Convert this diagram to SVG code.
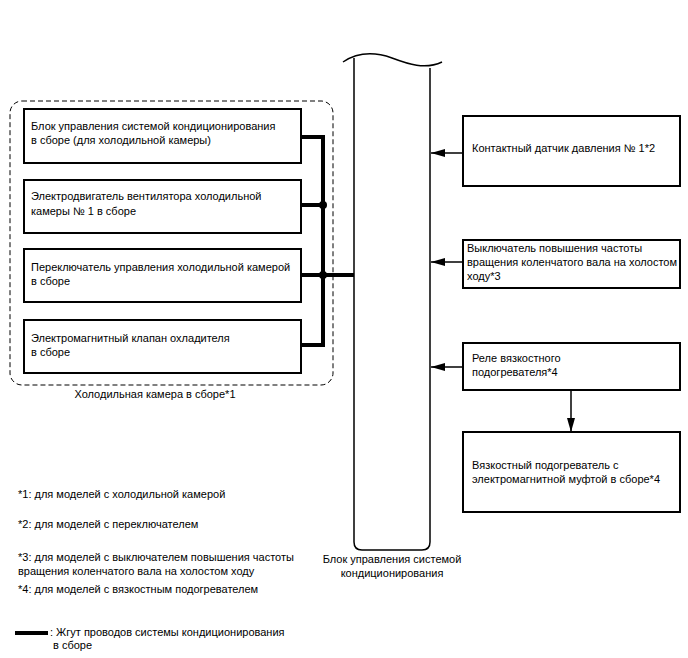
<svg xmlns="http://www.w3.org/2000/svg" width="688" height="658" viewBox="0 0 688 658">
<defs>
<style>
text{font-family:"Liberation Sans",Arial,sans-serif;font-size:11px;fill:#000}
.box{fill:#fff;stroke:#000;stroke-width:2}
.thin{fill:none;stroke:#000;stroke-width:1.5}
.harness{fill:none;stroke:#000;stroke-width:4}
</style>
<marker id="ah" markerWidth="14" markerHeight="8" refX="14" refY="4" orient="auto" markerUnits="userSpaceOnUse">
<path d="M0,0 L14,4 L0,8 Z" fill="#000"/>
</marker>
</defs>
<rect width="688" height="658" fill="#fff"/>

<g id="cold-box-group">
<rect x="10" y="101" width="323" height="284" rx="12" fill="none" stroke="#000" stroke-width="1" stroke-dasharray="5,3"/>
<text x="155" y="398" text-anchor="middle">Холодильная камера в сборе*1</text>
</g>

<g id="n1"><rect class="box" x="24" y="109" width="277" height="54"/>
<text x="31" y="130">Блок управления системой кондиционирования</text>
<text x="31" y="144">в сборе (для холодильной камеры)</text></g>
<g id="n2"><rect class="box" x="24" y="180" width="277" height="53"/>
<text x="31" y="200">Электродвигатель вентилятора холодильной</text>
<text x="31" y="215">камеры № 1 в сборе</text></g>
<g id="n3"><rect class="box" x="24" y="249" width="277" height="53"/>
<text x="31" y="271">Переключатель управления холодильной камерой</text>
<text x="31" y="285">в сборе</text></g>
<g id="n4"><rect class="box" x="24" y="320" width="277" height="53"/>
<text x="31" y="342">Электромагнитный клапан охладителя</text>
<text x="31" y="356">в сборе</text></g>

<g id="ecu">
<path class="thin" d="M354,58 L354,542 Q354,550 362,550 L422,550 Q430,550 430,542 L430,68"/>
<path class="thin" d="M343,62 C358,52 375,52 392,58 C408,64 425,70 442,62"/>
<text x="392" y="563" text-anchor="middle">Блок управления системой</text>
<text x="392" y="577" text-anchor="middle">кондиционирования</text>
</g>

<g id="r1"><rect class="box" x="463" y="116" width="217" height="70"/>
<text x="472" y="152">Контактный датчик давления № 1*2</text></g>
<g id="r2"><rect class="box" x="463" y="240" width="217" height="48"/>
<text x="467" y="252">Выключатель повышения частоты</text>
<text x="467" y="266">вращения коленчатого вала на холостом</text>
<text x="467" y="280">ходу*3</text></g>
<g id="r3"><rect class="box" x="463" y="343" width="217" height="47"/>
<text x="472" y="362">Реле вязкостного</text>
<text x="472" y="376">подогревателя*4</text></g>
<g id="r4"><rect class="box" x="463" y="432" width="217" height="80"/>
<text x="472" y="469">Вязкостный подогреватель с</text>
<text x="472" y="483">электромагнитной муфтой в сборе*4</text></g>

<g id="connectors">
<path class="harness" d="M301,137 L323,137 L323,345 L301,345 M301,205 L323,205 M301,275 L354,275"/>
<circle cx="323" cy="205" r="4" fill="#000"/>
<circle cx="323" cy="275" r="4" fill="#000"/>
<line class="thin" x1="463" y1="153" x2="431" y2="153" marker-end="url(#ah)"/>
<line class="thin" x1="463" y1="262" x2="431" y2="262" marker-end="url(#ah)"/>
<line class="thin" x1="463" y1="367" x2="431" y2="367" marker-end="url(#ah)"/>
<line class="thin" x1="571" y1="390" x2="571" y2="432" marker-end="url(#ah)"/>
</g>

<g id="notes">
<text x="18" y="498">*1: для моделей с холодильной камерой</text>
<text x="18" y="528">*2: для моделей с переключателем</text>
<text x="18" y="561">*3: для моделей с выключателем повышения частоты</text>
<text x="18" y="575">вращения коленчатого вала на холостом ходу</text>
<text x="18" y="593">*4: для моделей с вязкостным подогревателем</text>
<line x1="15" y1="633" x2="48" y2="633" stroke="#000" stroke-width="4"/>
<text x="50" y="636">: Жгут проводов системы кондиционирования</text>
<text x="53" y="649">в сборе</text>
</g>
</svg>
